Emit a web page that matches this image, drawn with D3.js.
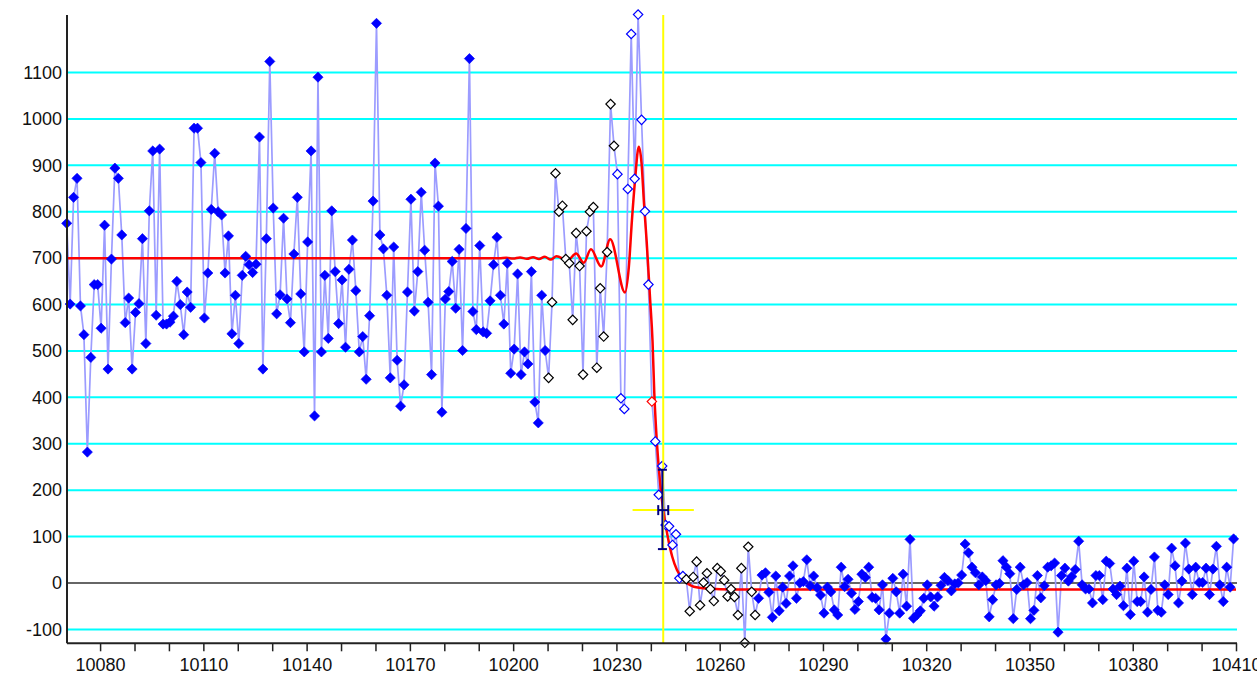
<!DOCTYPE html>
<html>
<head>
<meta charset="utf-8">
<script src="https://cdn.jsdelivr.net/npm/d3@7/dist/d3.min.js"></script>
<style>
  html, body { margin: 0; padding: 0; background: #ffffff; }
  svg { display: block; font-family: "Liberation Sans", Arial, sans-serif; }
</style>
</head>
<body>
<svg id="chart" width="1257" height="677"></svg>
<script>
// Sampled signal: one reading per position step, starting at xStart.
const xStart = 10070.3;
const signal = [
  775, 601, 831, 872, 597, 535, 282, 486, 643, 643,
  549, 771, 461, 698, 894, 872, 750, 561, 614, 461,
  583, 602, 742, 516, 802, 931, 577, 935, 558, 558,
  562, 575, 650, 600, 535, 627, 594, 980, 980, 906,
  571, 668, 805, 926, 800, 793, 668, 748, 537, 620,
  516, 663, 704, 686, 669, 687, 961, 461, 742, 1124,
  808, 580, 621, 786, 612, 561, 709, 831, 623, 498,
  735, 931, 360, 1090, 498, 663, 527, 802, 671, 559,
  653, 508, 676, 739, 630, 498, 531, 439, 576, 823,
  1206, 750, 720, 620, 442, 724, 480, 381, 427, 627,
  827, 586, 671, 842, 717, 605, 449, 905, 812, 368,
  612, 628, 693, 592, 719, 501, 764, 1130, 585, 546,
  727, 541, 538, 608, 686, 745, 620, 558, 689, 452,
  504, 666, 449, 498, 472, 671, 390, 345, 620, 501,
  442, 605, 883, 800, 813, 698, 689, 567, 754, 683,
  449, 758, 800, 810, 464, 635, 531, 713, 1032, 942,
  881, 398, 375, 849, 1183, 871, 1225, 998, 801, 643,
  391, 305, 190, 252, 125, 122, 82, 105, 10, 15,
  8, -61, 13, 46, -48, 1, 21, -13, -39, 32,
  25, 6, -29, -13, -30, -69, 32, -129, 78, -19,
  -69, -33, 17, 22, -20, -74, 15, -60, -9, -44,
  15, 37, -33, 0, 3, 50, -6, 15, -10, -26,
  -65, -9, -19, -58, -69, 34, -8, 8, -22, -57,
  -40, 19, 12, 34, -31, -33, -58, -4, -121, -65,
  10, -19, -65, 19, -50, 94, -76, -69, -60, -33,
  -4, -30, -50, -30, -5, 12, 5, -17, -2, 0,
  17, 84, 65, 34, 22, -4, 13, 5, -73, -36,
  -4, -1, 48, 34, 20, -77, -14, 34, -4, 1,
  -77, -59, 16, -32, -6, 34, 37, 43, -106, 16,
  32, 4, 14, 29, 90, -4, -13, -13, -43, 16,
  16, -36, 47, 42, -13, -25, -7, -49, 32, -68,
  47, -40, -40, 13, -63, -14, 56, -59, -63, -4,
  -25, 75, 37, -43, 4, 86, 30, -25, 34, 1,
  1, 32, -25, 30, 79, -4, -40, 34, -9, 95
];

// Sample index ranges drawn with hollow markers.
const hollowBlackRanges = [[140, 159], [180, 200]];
const hollowBlueRanges = [[160, 169], [171, 179]];
const hollowRedIndex = [170];

// Fitted edge model (position, level).
const fitPos = [
  10070.3, 10196, 10198, 10200, 10202, 10204, 10205.8, 10207.5, 10209.2, 10210.9,
  10212.6, 10215.8, 10218.3, 10220.5, 10222.6, 10225.6, 10228.2, 10232.5, 10233.6, 10234.5,
  10235.4, 10236.5, 10237.3, 10238, 10238.8, 10239.8, 10240.5, 10241, 10241.5, 10242.2,
  10242.9, 10243.9, 10244.9, 10246.2, 10247.6, 10249.6, 10252.5, 10256.4, 10264, 10410
];
const fitLevel = [
  700, 700, 701, 699, 701.5, 698.5, 702, 698, 703, 697,
  704, 695, 710, 690, 719, 682, 741, 626, 680, 781,
  867, 940, 905, 820, 735, 610, 520, 410, 335, 258,
  200, 143, 100, 57, 28, 6, -8, -12, -14, -14
];

// Edge estimate with its uncertainty.
const edgePos = 10243.6;
const edgeLevel = 157;
const edgePosErr = 1.45;
const edgeLevelLow = 73;
const edgeLevelHigh = 244;
const edgeMarkerHalfWidth = 8.9;

// Axis ticks.
const xMinorTicks = [10080, 10090, 10100, 10110, 10120, 10130, 10140, 10150, 10160, 10170,
  10180, 10190, 10200, 10210, 10220, 10230, 10240, 10250, 10260, 10270, 10280, 10290,
  10300, 10310, 10320, 10330, 10340, 10350, 10360, 10370, 10380, 10390, 10400, 10410];
const xLabelTicks = [10080, 10110, 10140, 10170, 10200, 10230, 10260, 10290, 10320, 10350, 10380, 10410];
const yTicks = [-100, 0, 100, 200, 300, 400, 500, 600, 700, 800, 900, 1000, 1100];

const svg = d3.select("#chart");
const x = d3.scaleLinear().domain([10070.3, 10410]).range([66.7, 1236]);
const y = d3.scaleLinear().domain([-130, 1224]).range([643.3, 15]);
const plotLeft = 67, plotRight = 1237;

const points = signal.map((v, i) => ({ pos: xStart + i, v, i }));
const inRanges = (i, ranges) => ranges.some(([a, b]) => i >= a && i <= b);
function kind(i) {
  if (hollowRedIndex.includes(i)) return "red";
  if (inRanges(i, hollowBlackRanges)) return "black";
  if (inRanges(i, hollowBlueRanges)) return "blue";
  return "filled";
}

// Horizontal grid lines
svg.append("g").selectAll("line")
  .data(yTicks.filter(t => t !== 0))
  .join("line")
  .attr("x1", plotLeft).attr("x2", plotRight)
  .attr("y1", d => y(d)).attr("y2", d => y(d))
  .attr("stroke", "#00ffff").attr("stroke-width", 2);

// Zero line
svg.append("line")
  .attr("x1", plotLeft).attr("x2", plotRight)
  .attr("y1", y(0)).attr("y2", y(0))
  .attr("stroke", "#333333").attr("stroke-width", 1.5);

// Connecting line through the samples
svg.append("path")
  .datum(points)
  .attr("fill", "none")
  .attr("stroke", "#9c9cff")
  .attr("stroke-width", 1.7)
  .attr("d", d3.line().x(d => x(d.pos)).y(d => y(d.v)));

// Fitted model curve
const fitData = fitPos.map((p, k) => ({ p, v: fitLevel[k] }));
svg.append("path")
  .datum(fitData)
  .attr("fill", "none")
  .attr("stroke", "#ff0000")
  .attr("stroke-width", 2.5)
  .attr("d", d3.line().curve(d3.curveMonotoneX).x(d => x(d.p)).y(d => y(d.v)));

// Sample markers (diamonds)
const filledDiamond = d3.symbol().type(d3.symbolSquare).size(52);
const hollowDiamond = d3.symbol().type(d3.symbolSquare).size(44);
const styleFor = {
  filled: { fill: "#0000ff", stroke: "#0000ff", sw: 0.6 },
  black: { fill: "#ffffff", stroke: "#000000", sw: 1.2 },
  blue: { fill: "#ffffff", stroke: "#0000ff", sw: 1.2 },
  red: { fill: "#ffffff", stroke: "#ff0000", sw: 1.2 }
};
svg.append("g").selectAll("path")
  .data(points)
  .join("path")
  .attr("d", d => kind(d.i) === "filled" ? filledDiamond() : hollowDiamond())
  .attr("transform", d => `translate(${x(d.pos)},${y(d.v)}) rotate(45)`)
  .attr("fill", d => styleFor[kind(d.i)].fill)
  .attr("stroke", d => styleFor[kind(d.i)].stroke)
  .attr("stroke-width", d => styleFor[kind(d.i)].sw);

// Edge position marker (yellow cross)
svg.append("line")
  .attr("x1", x(edgePos)).attr("x2", x(edgePos))
  .attr("y1", 15).attr("y2", 643)
  .attr("stroke", "#ffff00").attr("stroke-width", 2);
svg.append("line")
  .attr("x1", x(edgePos - edgeMarkerHalfWidth)).attr("x2", x(edgePos + edgeMarkerHalfWidth))
  .attr("y1", y(edgeLevel)).attr("y2", y(edgeLevel))
  .attr("stroke", "#ffff00").attr("stroke-width", 2);

// Error bars on the edge estimate
const eb = svg.append("g").attr("stroke", "#000080").attr("stroke-width", 2).attr("fill", "none");
const ex = x(edgePos) - 0.8;
eb.append("line").attr("x1", ex).attr("x2", ex).attr("y1", y(edgeLevelHigh)).attr("y2", y(edgeLevelLow));
eb.append("line").attr("x1", ex - 4.5).attr("x2", ex + 4.5).attr("y1", y(edgeLevelHigh)).attr("y2", y(edgeLevelHigh));
eb.append("line").attr("x1", ex - 4.5).attr("x2", ex + 4.5).attr("y1", y(edgeLevelLow)).attr("y2", y(edgeLevelLow));
const ey = y(edgeLevel);
const hx0 = x(edgePos - edgePosErr), hx1 = x(edgePos + edgePosErr);
eb.append("line").attr("x1", hx0).attr("x2", hx1).attr("y1", ey).attr("y2", ey);
eb.append("line").attr("x1", hx0).attr("x2", hx0).attr("y1", ey - 5).attr("y2", ey + 5);
eb.append("line").attr("x1", hx1).attr("x2", hx1).attr("y1", ey - 5).attr("y2", ey + 5);

// Axes
const xAxis = d3.axisBottom(x)
  .tickValues(xMinorTicks)
  .tickSize(8)
  .tickSizeOuter(0)
  .tickPadding(7)
  .tickFormat(d => xLabelTicks.includes(d) ? String(d) : "");
const gx = svg.append("g").attr("transform", `translate(0,${y(-130)})`).call(xAxis);
gx.select(".domain").attr("d", `M${plotLeft},0H${plotRight}`).attr("stroke", "#222").attr("stroke-width", 2);
gx.selectAll(".tick line").attr("stroke", "#222").attr("stroke-width", 1.5);
gx.selectAll(".tick text").attr("font-size", 18).attr("fill", "#111").attr("font-family", "'Liberation Sans', Arial, sans-serif");

const yAxis = d3.axisLeft(y).tickValues(yTicks).tickSize(0).tickPadding(5).tickFormat(d => String(d));
const gy = svg.append("g").attr("transform", `translate(${plotLeft},0)`).call(yAxis);
gy.select(".domain").attr("d", `M0,15V${y(-130)}`).attr("stroke", "#222").attr("stroke-width", 2);
gy.selectAll(".tick text").attr("font-size", 18).attr("fill", "#111").attr("font-family", "'Liberation Sans', Arial, sans-serif");
</script>
</body>
</html>
